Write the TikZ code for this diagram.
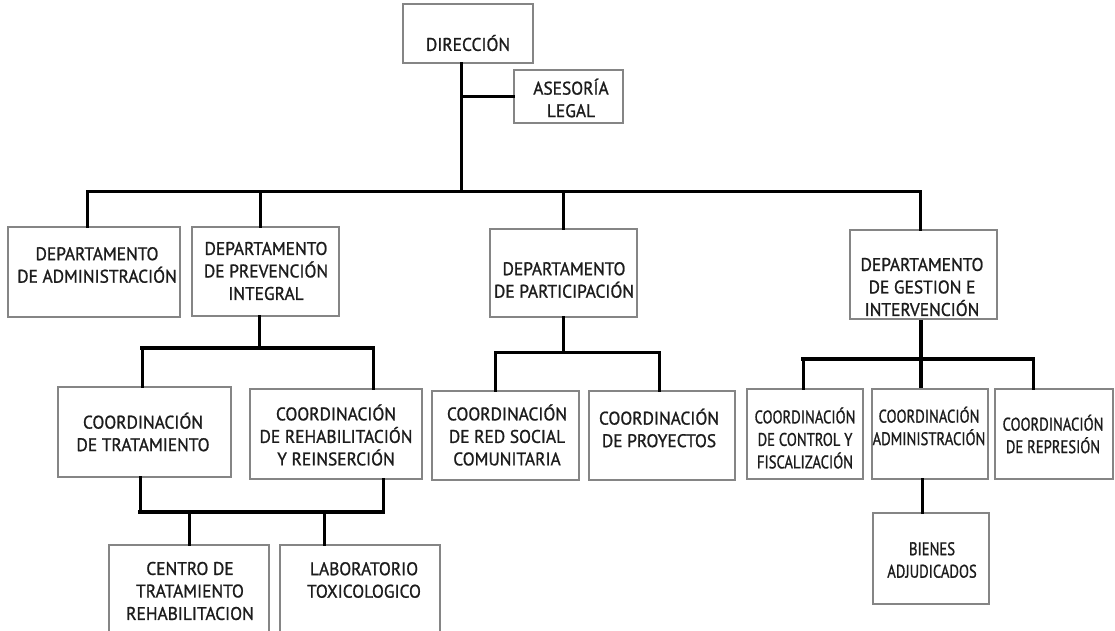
\documentclass[tikz,border=0pt]{standalone}
\usepackage{fontspec}
\setmainfont{PT Sans}
\newfontfamily\orgfont[FakeBold=1.1]{PT Sans}
\usetikzlibrary{fit}
\definecolor{boxgray}{HTML}{858585}
\definecolor{txt}{HTML}{1c1c1c}
\tikzset{
  obox/.style={draw=boxgray, line width=1.1pt, inner sep=0pt, fill=white},
  otext/.style={text=txt, align=center, inner sep=0pt, transform shape, xscale=0.95, font=\orgfont\fontsize{18.3}{22.5}\selectfont},
  ntext/.style={otext, xscale=0.84},
  conn/.style={line width=3pt, line cap=rect},
  connb/.style={line width=4.5pt, line cap=rect},
}
\newcommand{\obx}[9]{%
  \node[obox, fit={(#2,#3) (#4,#5)}] (#1) {};
  \node[#9] (#1-t) at (#6,#7) {#8};
}
\begin{document}
\begin{tikzpicture}[x=1pt,y=-1pt]
\useasboundingbox[fill=white] (0,0) rectangle (1115,630);
\clip (0,0) rectangle (1115,630);

% boxes
\obx{dir}{403}{4}{533}{63}{468}{43}{DIRECCIÓN}{otext}
\obx{ase}{514}{70}{623}{123}{571}{98}{ASESORÍA\\LEGAL}{otext}
\obx{dadm}{8}{227}{180}{317}{97}{265}{DEPARTAMENTO\\DE ADMINISTRACIÓN}{otext}
\obx{dprev}{192}{227}{339}{316}{266}{271}{DEPARTAMENTO\\DE PREVENCIÓN\\INTEGRAL}{otext}
\obx{dpart}{490}{229}{637}{317}{564}{280}{DEPARTAMENTO\\DE PARTICIPACIÓN}{otext}
\obx{dgest}{850}{230}{997}{319}{922}{287}{DEPARTAMENTO\\DE GESTION E\\INTERVENCIÓN}{otext}
\obx{ctrat}{58}{387}{231}{477}{143}{432}{COORDINACIÓN\\DE TRATAMIENTO}{otext}
\obx{crehab}{250}{389}{422}{479}{336}{435}{COORDINACIÓN\\DE REHABILITACIÓN\\Y REINSERCIÓN}{otext}
\obx{centro}{109}{545}{269}{660}{190}{591}{CENTRO DE\\TRATAMIENTO\\REHABILITACION}{otext}
\obx{lab}{280}{545}{440}{660}{364}{580}{LABORATORIO\\TOXICOLOGICO}{otext}
\obx{cred}{432}{391}{579}{480}{507}{435}{COORDINACIÓN\\DE RED SOCIAL\\COMUNITARIA}{otext}
\obx{cproy}{589}{391}{735}{480}{659}{428}{COORDINACIÓN\\DE PROYECTOS}{otext}
\obx{cctrl}{747}{389}{863}{479}{805}{438}{COORDINACIÓN\\DE CONTROL Y\\FISCALIZACIÓN}{ntext}
\obx{cadm}{872}{389}{988}{479}{929}{426}{COORDINACIÓN\\ADMINISTRACIÓN}{ntext}
\obx{crep}{995}{389}{1113}{479}{1053}{434}{COORDINACIÓN\\DE REPRESIÓN}{ntext}
\obx{bien}{873}{513}{989}{604}{932}{560}{BIENES\\ADJUDICADOS}{ntext}

% junction coordinates
\coordinate (j0) at (461,191);
\coordinate (ja) at (461,96);
\coordinate (b1l) at (87,191);
\coordinate (b1p) at (260,191);
\coordinate (b1c) at (563,191);
\coordinate (b1r) at (920,191);
\coordinate (j2) at (259,348);
\coordinate (b2l) at (142,348);
\coordinate (b2r) at (373,348);
\coordinate (b3l) at (140,512);
\coordinate (b3r) at (383,512);
\coordinate (b3a) at (189,512);
\coordinate (b3b) at (324,512);
\coordinate (j4) at (563,352);
\coordinate (b4l) at (495,352);
\coordinate (b4r) at (659,352);
\coordinate (j5) at (921,359);
\coordinate (b5l) at (803,359);
\coordinate (b5r) at (1033,359);
\coordinate (j6) at (922,479);

% connectors
\draw[conn] (j0 |- dir.south) -- (j0);
\draw[conn] (ja) -- (ase.west |- ja);
\draw[conn] (b1l |- dadm.north) -- (b1l) -- (b1r) -- (b1r |- dgest.north);
\draw[conn] (b1p) -- (b1p |- dprev.north);
\draw[conn] (b1c) -- (b1c |- dpart.north);

\draw[conn] (j2 |- dprev.south) -- (j2);
\draw[connb] (b2l) -- (b2r);
\draw[conn] (b2l) -- (b2l |- ctrat.north);
\draw[conn] (b2r) -- (b2r |- crehab.north);

\draw[conn] (b3l |- ctrat.south) -- (b3l);
\draw[conn] (b3r |- crehab.south) -- (b3r);
\draw[connb] (b3l) -- (b3r);
\draw[conn] (b3a) -- (b3a |- centro.north);
\draw[conn] (b3b) -- (b3b |- lab.north);

\draw[conn] (j4 |- dpart.south) -- (j4);
\draw[conn] (b4l) -- (b4r);
\draw[conn] (b4l) -- (b4l |- cred.north);
\draw[conn] (b4r) -- (b4r |- cproy.north);

\draw[line width=4pt] (j5 |- dgest.south) -- (j5 |- cadm.north);
\draw[line width=3.5pt, line cap=rect] (b5l) -- (b5r);
\draw[conn] (b5l) -- (b5l |- cctrl.north);
\draw[conn] (b5r) -- (b5r |- crep.north);

\draw[conn] (j6 |- cadm.south) -- (j6 |- bien.north);
\end{tikzpicture}
\end{document}
